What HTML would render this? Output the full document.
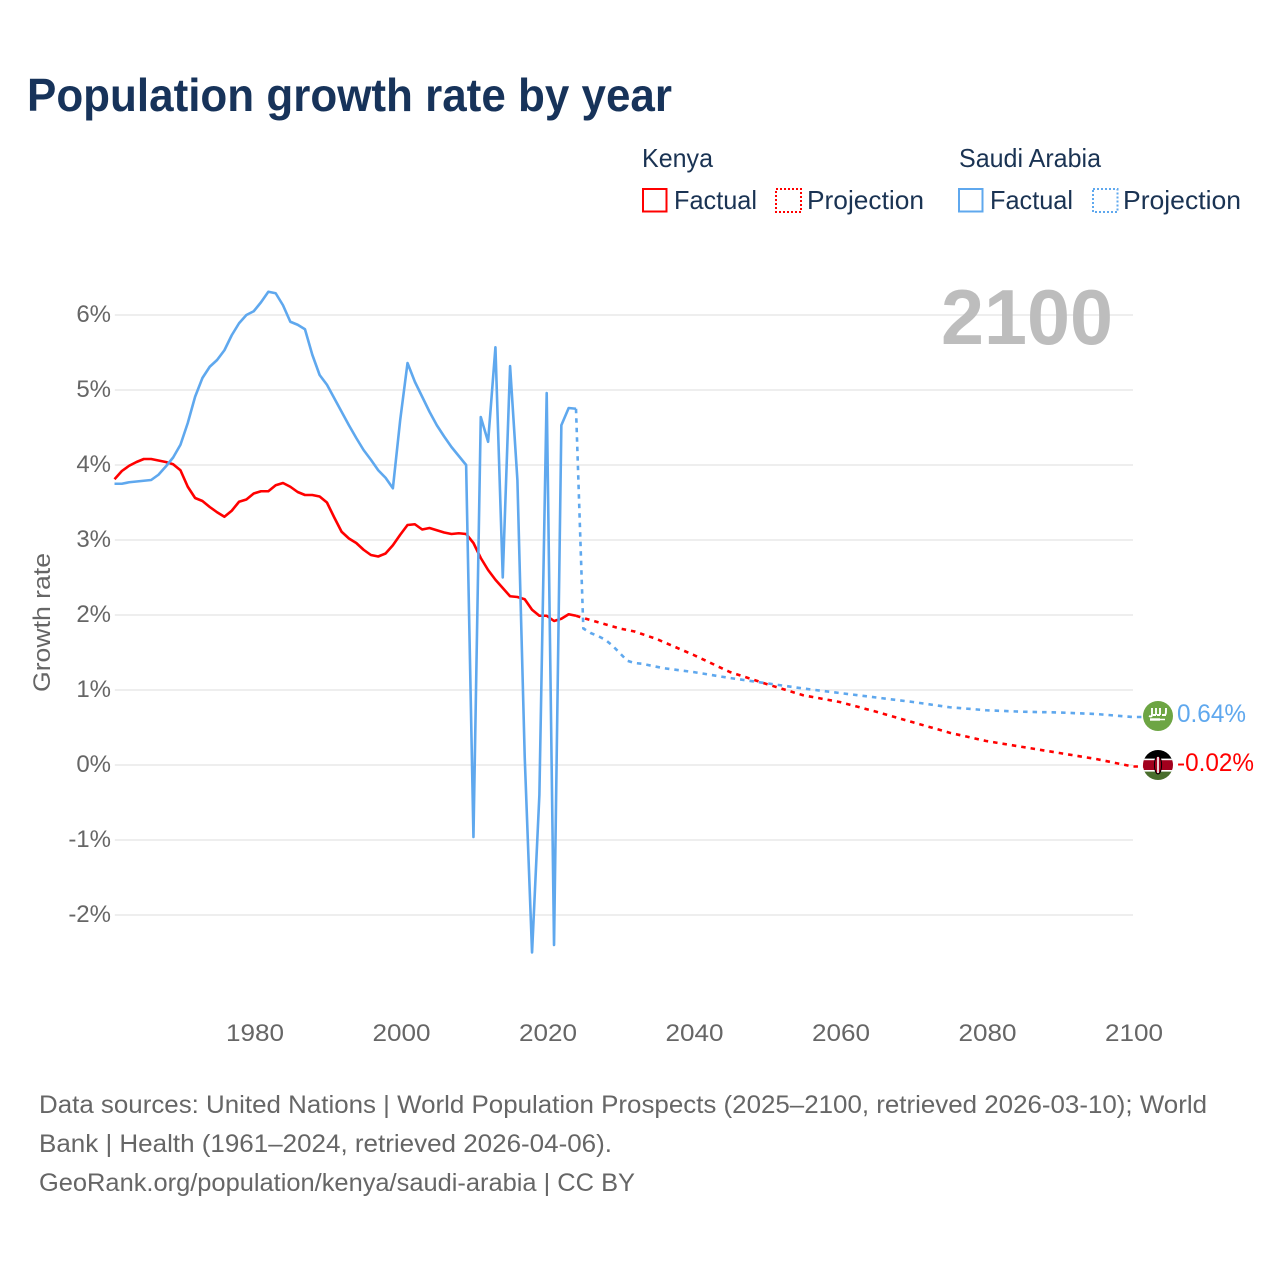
<!DOCTYPE html>
<html lang="en">
<head>
<meta charset="utf-8">
<title>Population growth rate by year</title>
<style>
html,body{margin:0;padding:0;background:#fff;}
#page{width:1280px;height:1280px;display:block;font-family:"Liberation Sans",sans-serif;}
text{font-family:"Liberation Sans",sans-serif;}
</style>
</head>
<body>
<svg id="page" xmlns="http://www.w3.org/2000/svg" width="1280" height="1280" viewBox="0 0 1280 1280">
  <rect width="1280" height="1280" fill="#fff"/>
  <text x="27" y="111" font-size="46" font-weight="700" fill="#17335a" textLength="645" lengthAdjust="spacingAndGlyphs">Population growth rate by year</text>

  <g font-size="26" fill="#1a3353">
    <text x="642" y="167" textLength="71" lengthAdjust="spacingAndGlyphs">Kenya</text>
    <rect x="643" y="189" width="23.5" height="22.5" fill="#fff" stroke="#ff0000" stroke-width="2"/>
    <text x="674" y="209" textLength="83" lengthAdjust="spacingAndGlyphs">Factual</text>
    <rect x="776" y="189" width="25" height="23" fill="#fff" stroke="#ff0000" stroke-width="2" stroke-dasharray="2 2"/>
    <text x="807" y="209" textLength="117" lengthAdjust="spacingAndGlyphs">Projection</text>
    <text x="959" y="167" textLength="142" lengthAdjust="spacingAndGlyphs">Saudi Arabia</text>
    <rect x="959" y="189" width="23.5" height="22.5" fill="#fff" stroke="#5fa8ee" stroke-width="2"/>
    <text x="990" y="209" textLength="83" lengthAdjust="spacingAndGlyphs">Factual</text>
    <rect x="1093" y="189" width="24.5" height="23" fill="#fff" stroke="#5fa8ee" stroke-width="2" stroke-dasharray="2 2"/>
    <text x="1123" y="209" textLength="118" lengthAdjust="spacingAndGlyphs">Projection</text>
  </g>

  <g id="grid"></g>
  <g id="yticks" font-size="24" fill="#666" text-anchor="end"></g>
  <g id="xticks" font-size="24" fill="#666" text-anchor="middle"></g>
  <text transform="translate(50,692) rotate(-90)" font-size="24" fill="#666" textLength="139" lengthAdjust="spacingAndGlyphs">Growth rate</text>

  <text x="941" y="344" font-size="78" font-weight="700" fill="#bdbdbd" textLength="172" lengthAdjust="spacingAndGlyphs">2100</text>

  <g id="series"></g>

  <g>
    <circle cx="1158" cy="716" r="15" fill="#6da544"/>
    <g stroke="#fff" fill="none" stroke-width="1.9">
      <path d="M1149 716c2 1 3 0 3-1v-7M1156 715v-7M1156 715h-3M1160 715v-7M1160 715h-3M1165 715c1-1 1-2 1-7M1166 715h-4"/>
      <path d="M1150 719.5h10" stroke-width="2.4"/>
      <path d="M1160 719.5h5" stroke-width="1.5"/>
    </g>
  </g>
  <g>
    <clipPath id="kenyaClip"><circle cx="1158" cy="765" r="15"/></clipPath>
    <g clip-path="url(#kenyaClip)">
      <rect x="1143" y="750" width="30" height="10" fill="#000"/>
      <rect x="1143" y="760" width="30" height="10" fill="#a2001d"/>
      <rect x="1143" y="770" width="30" height="10" fill="#496e2d"/>
      <rect x="1143" y="758.6" width="30" height="1.6" fill="#fff"/>
      <rect x="1143" y="770" width="30" height="1.6" fill="#fff"/>
      <ellipse cx="1158" cy="765" rx="3.6" ry="9" fill="#a2001d" stroke="#000" stroke-width="1"/>
      <rect x="1157.2" y="757" width="1.6" height="16" fill="#fff"/>
    </g>
  </g>
  <text x="1177" y="722" font-size="25" fill="#5fa8ee" textLength="69" lengthAdjust="spacingAndGlyphs">0.64%</text>
  <text x="1177" y="771" font-size="25" fill="#ff0000" textLength="77" lengthAdjust="spacingAndGlyphs">-0.02%</text>

  <g font-size="25" fill="#666">
    <text x="39" y="1113" textLength="1168" lengthAdjust="spacingAndGlyphs">Data sources: United Nations | World Population Prospects (2025–2100, retrieved 2026-03-10); World</text>
    <text x="39" y="1152" textLength="573" lengthAdjust="spacingAndGlyphs">Bank | Health (1961–2024, retrieved 2026-04-06).</text>
    <text x="39" y="1191" textLength="596" lengthAdjust="spacingAndGlyphs">GeoRank.org/population/kenya/saudi-arabia | CC BY</text>
  </g>
</svg>
<script>
const yTickValues = [-2, -1, 0, 1, 2, 3, 4, 5, 6];
const yTickLabels = ['-2%', '-1%', '0%', '1%', '2%', '3%', '4%', '5%', '6%'];
const xTickValues = [1980, 2000, 2020, 2040, 2060, 2080, 2100];
const xTickLabels = ['1980', '2000', '2020', '2040', '2060', '2080', '2100'];

const factualStartYear = 1961;
const kenyaFactual = [3.81,3.92,3.99,4.04,4.08,4.08,4.06,4.04,4.01,3.93,3.71,3.56,3.52,3.44,3.37,3.31,3.39,3.51,3.54,3.62,3.65,3.65,3.73,3.76,3.71,3.64,3.60,3.60,3.58,3.50,3.30,3.11,3.02,2.96,2.87,2.80,2.78,2.82,2.93,3.07,3.20,3.21,3.14,3.16,3.13,3.10,3.08,3.09,3.08,2.96,2.76,2.60,2.47,2.36,2.25,2.24,2.21,2.07,1.99,1.99,1.92,1.95,2.01,1.99];
const saudiFactual = [3.75,3.75,3.77,3.78,3.79,3.80,3.87,3.98,4.10,4.27,4.56,4.91,5.16,5.31,5.40,5.53,5.73,5.89,6.00,6.05,6.17,6.31,6.29,6.13,5.91,5.87,5.81,5.47,5.20,5.07,4.89,4.71,4.53,4.36,4.20,4.07,3.93,3.83,3.69,4.60,5.36,5.11,4.91,4.71,4.53,4.38,4.24,4.12,4.00,-0.96,4.64,4.31,5.57,2.50,5.32,3.80,0.10,-2.50,-0.40,4.96,-2.40,4.53,4.76,4.75];

const kenyaProjectionYears = [2024,2025,2030,2032,2035,2040,2045,2050,2055,2060,2065,2070,2075,2080,2085,2090,2095,2100];
const kenyaProjection = [1.99,1.96,1.82,1.78,1.68,1.47,1.24,1.08,0.93,0.84,0.71,0.57,0.43,0.32,0.24,0.16,0.08,-0.02];
const saudiProjectionYears = [2024,2025,2026,2027,2028,2029,2030,2031,2032,2033,2036,2040,2045,2050,2055,2060,2065,2070,2075,2080,2085,2090,2095,2100];
const saudiProjection = [4.75,1.82,1.76,1.72,1.67,1.59,1.49,1.39,1.36,1.35,1.29,1.24,1.16,1.09,1.02,0.96,0.90,0.84,0.77,0.73,0.71,0.70,0.68,0.64];

function xScale(year) { return 255 + (year - 1980) * (1134 - 255) / 120; }
function xData(year) { return xScale(year) - 1.3; }
function yScale(value) { return 765 - value * 75; }

const svgNS = 'http://www.w3.org/2000/svg';
const gridGroup = document.getElementById('grid');
const yTickGroup = document.getElementById('yticks');
const xTickGroup = document.getElementById('xticks');
const seriesGroup = document.getElementById('series');

yTickValues.forEach(function (v, i) {
  const line = document.createElementNS(svgNS, 'line');
  
  
  line.setAttribute('x1', xScale(1961) - 1);
  line.setAttribute('x2', xScale(2100) - 1);
  line.setAttribute('y1', yScale(v));
  line.setAttribute('y2', yScale(v));
  line.setAttribute('stroke', '#eeeeee');
  line.setAttribute('stroke-width', '2');
  gridGroup.appendChild(line);

  const label = document.createElementNS(svgNS, 'text');
  
  
  label.setAttribute('x', 111);
  label.setAttribute('y', yScale(v) + 7);
  label.textContent = yTickLabels[i];
  yTickGroup.appendChild(label);
});

xTickValues.forEach(function (v, i) {
  const label = document.createElementNS(svgNS, 'text');
  
  
  label.setAttribute('x', xScale(v));
  label.setAttribute('y', 1041);
  label.setAttribute('textLength', '58');
  label.setAttribute('lengthAdjust', 'spacingAndGlyphs');
  label.textContent = xTickLabels[i];
  xTickGroup.appendChild(label);
});

function yearRange(start, count) {
  const years = [];
  for (let i = 0; i < count; i++) years.push(start + i);
  return years;
}

function pathFor(years, values) {
  return values.map(function (v, i) {
    return (i ? 'L' : 'M') + xData(years[i]).toFixed(2) + ' ' + yScale(v).toFixed(2);
  }).join('');
}

function addLine(name, d, color, dashed) {
  const p = document.createElementNS(svgNS, 'path');
  
  
  p.setAttribute('d', d);
  p.setAttribute('fill', 'none');
  p.setAttribute('stroke', color);
  p.setAttribute('stroke-width', '2.6');
  p.setAttribute('stroke-linejoin', 'round');
  if (dashed) p.setAttribute('stroke-dasharray', '4.5 5');
  seriesGroup.appendChild(p);
}

const MARKER_X = 1158;
addLine('kenya-factual-line', pathFor(yearRange(factualStartYear, kenyaFactual.length), kenyaFactual), '#ff0000', false);
addLine('kenya-projection-line', pathFor(kenyaProjectionYears, kenyaProjection) + 'L' + MARKER_X + ' ' + yScale(kenyaProjection[kenyaProjection.length - 1]).toFixed(2), '#ff0000', true);
addLine('saudi-factual-line', pathFor(yearRange(factualStartYear, saudiFactual.length), saudiFactual), '#5fa8ee', false);
addLine('saudi-projection-line', pathFor(saudiProjectionYears, saudiProjection) + 'L' + MARKER_X + ' ' + yScale(saudiProjection[saudiProjection.length - 1]).toFixed(2), '#5fa8ee', true);
</script>
</body>
</html>
